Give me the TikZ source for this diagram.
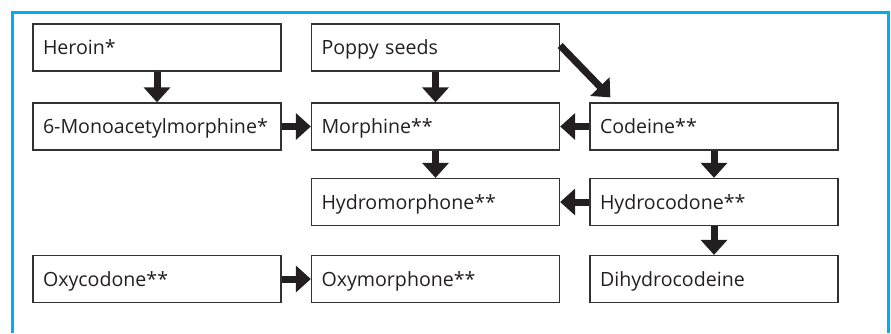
\documentclass[tikz,border=0pt]{standalone}
\usepackage{fontspec}
\setmainfont{Open Sans}
\usepackage{tikz}
\usetikzlibrary{arrows.meta, positioning}

\definecolor{framecyan}{RGB}{0,174,239}
\definecolor{inkblack}{RGB}{35,31,32}
\definecolor{boxgray}{RGB}{50,50,50}

\begin{document}
\begin{tikzpicture}[x=1pt, y=-1pt, node distance=278.5pt, >=Triangle,
    every node/.style={rectangle, draw=boxgray, line width=1.3pt, minimum width=248pt, minimum height=47pt,
        text width=228pt, inner xsep=10pt, align=left, text height=14pt, text depth=0pt,
        font=\fontsize{19.6}{24}\selectfont, text=inkblack},
    flow/.style={-{Triangle[width=26pt, length=15pt]}, line width=7pt, draw=inkblack}]
    \useasboundingbox (0,0) rectangle (891,333);
    % blue frame, open at the bottom
    \draw [framecyan, line width=3pt] (12.5,333) -- (12.5,12) -- (888.5,12) -- (888.5,333);

    \node (heroin) at (157,47.5) {Heroin*};
    \node (mam) [below of=heroin, node distance=79pt] {6-Monoacetylmorphine*};
    \node (poppy) [right of=heroin] {Poppy seeds};
    \node (morphine) [below of=poppy, node distance=79pt] {Morphine**};
    \node (codeine) [right of=morphine] {Codeine**};
    \node (hydromorphone) [below of=morphine, node distance=75.5pt] {Hydromorphone**};
    \node (hydrocodone) [right of=hydromorphone] {Hydrocodone**};
    \node (dihydrocodeine) [below of=hydrocodone, node distance=77pt] {Dihydrocodeine};
    \node (oxymorphone) [below of=hydromorphone, node distance=77pt] {Oxymorphone**};
    \node (oxycodone) [left of=oxymorphone] {Oxycodone**};

    \draw [flow] (heroin) -- (mam);
    \draw [flow] (mam) -- (morphine);
    \draw [flow] (poppy) -- (morphine);
    \draw [flow] ([yshift=2pt]poppy.east) -- ([xshift=21pt, yshift=5pt]codeine.north west);
    \draw [flow] (codeine) -- (morphine);
    \draw [flow] (morphine) -- (hydromorphone);
    \draw [flow] (codeine) -- (hydrocodone);
    \draw [flow] (hydrocodone) -- (hydromorphone);
    \draw [flow] (hydrocodone) -- (dihydrocodeine);
    \draw [flow] (oxycodone) -- (oxymorphone);
\end{tikzpicture}
\end{document}
